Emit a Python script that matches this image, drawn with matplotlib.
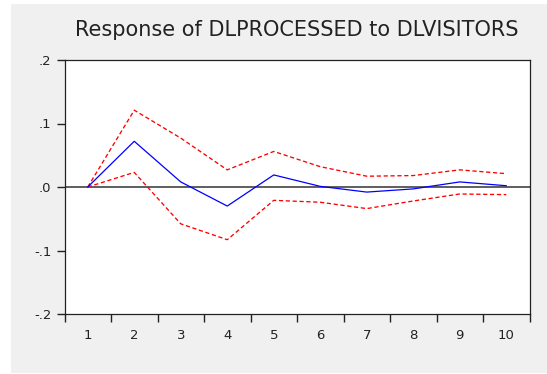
import matplotlib
matplotlib.use("Agg")
import matplotlib.pyplot as plt
from matplotlib.patches import Rectangle
from matplotlib.ticker import FixedLocator

# Impulse response of DLPROCESSED to a DLVISITORS shock, with +/- 2 S.E. bands
steps = [1, 2, 3, 4, 5, 6, 7, 8, 9, 10]
response = [0.0, 0.072, 0.008, -0.030, 0.019, 0.001, -0.008, -0.003, 0.008, 0.002]
upper_band = [0.0, 0.121, 0.077, 0.027, 0.056, 0.032, 0.017, 0.018, 0.027, 0.021]
lower_band = [0.0, 0.023, -0.058, -0.083, -0.021, -0.024, -0.034, -0.022, -0.011, -0.012]

y_ticks = [-0.2, -0.1, 0.0, 0.1, 0.2]
y_tick_labels = ["-.2", "-.1", ".0", ".1", ".2"]
title = "Response of DLPROCESSED to DLVISITORS"

W, H = 547, 374
fig = plt.figure(figsize=(W / 100, H / 100), dpi=100, facecolor="white")

# light grey panel behind the chart
panel = Rectangle((11 / W, 1 - 373 / H), (W - 11) / W, 369 / H,
                  transform=fig.transFigure, facecolor="#f0f0f0",
                  edgecolor="none", zorder=-10)
fig.add_artist(panel)

ax = fig.add_axes([64.5 / W, 1 - 314 / H, 465 / W, 254 / H])
ax.set_zorder(1)
ax.set_facecolor("white")

ax.axhline(0, color="#333333", linewidth=1.1, zorder=2)
ax.plot(steps, upper_band, color="#ff0000", linewidth=0.95, dashes=(3.2, 2.0), zorder=3)
ax.plot(steps, lower_band, color="#ff0000", linewidth=0.95, dashes=(3.2, 2.0), zorder=3)
ax.plot(steps, response, color="#0000ff", linewidth=0.9, zorder=4)

ax.set_xlim(0.5, 10.5)
ax.set_ylim(-0.2, 0.2)

ax.set_xticks(steps)
ax.set_xticklabels([str(s) for s in steps])
ax.xaxis.set_minor_locator(FixedLocator([s - 0.5 for s in steps] + [10.5]))
ax.tick_params(axis="x", which="major", length=0, pad=11, labelsize=9.5, colors="#222222")
ax.tick_params(axis="x", which="minor", length=5.5, width=1.0, direction="out", color="#222222")

ax.set_yticks(y_ticks)
ax.set_yticklabels(y_tick_labels)
ax.tick_params(axis="y", which="major", length=6, width=1.0, direction="out",
               pad=3.5, labelsize=9.5, colors="#222222")

for side in ["top", "bottom", "left", "right"]:
    ax.spines[side].set_color("#222222")
    ax.spines[side].set_linewidth(0.9)

fig.text(297 / W, 1 - 36 / H, title, ha="center", va="baseline",
         fontsize=15, color="#222222", zorder=2)

fig.savefig("out.png", dpi=100, facecolor=fig.get_facecolor())
